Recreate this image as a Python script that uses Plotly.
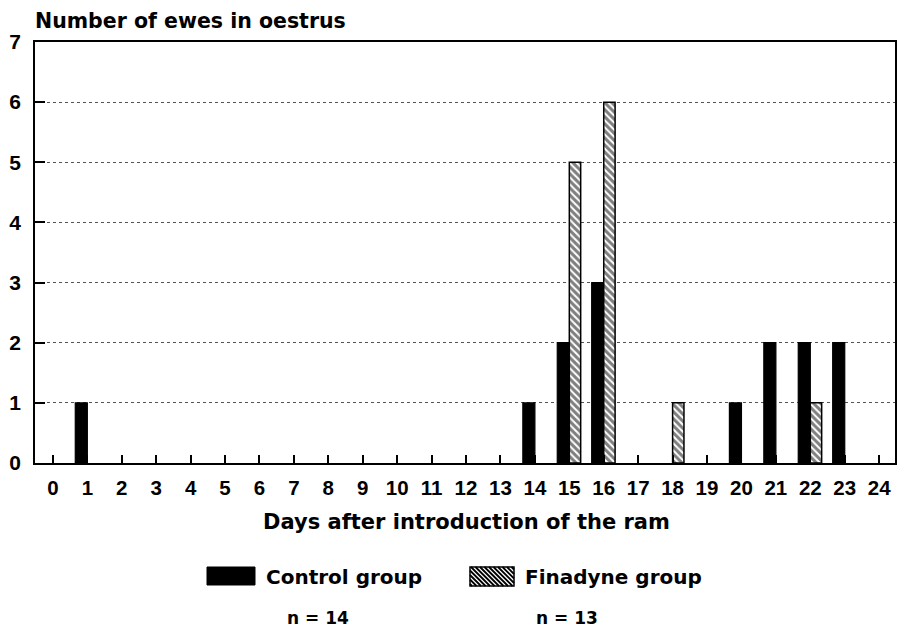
import plotly.graph_objects as go

# ---- data ----
days = list(range(0, 25))
control_days = [1, 14, 15, 16, 20, 21, 22, 23]
control_vals = [1, 1, 2, 3, 1, 2, 2, 2]
finadyne_days = [15, 16, 18, 22]
finadyne_vals = [5, 6, 1, 1]
y_ticks = [0, 1, 2, 3, 4, 5, 6, 7]

y_title = "Number of ewes in oestrus"
x_title = "Days after introduction of the ram"
legend_labels = ["Control group", "Finadyne group"]
legend_n = ["n = 14", "n = 13"]

# ---- geometry helpers (figure pixels -> paper) ----
W, H = 898, 631
L, R, T, B = 35, 3, 42, 168
PW, PH = W - L - R, H - T - B


def px(x):
    return (x - L) / PW


def py(y):
    return (H - B - y) / PH


TXT = dict(family="DejaVu Sans", size=20, color="black", weight="bold")
NUM = dict(family="Liberation Sans", size=20.5, color="black", weight="bold")

fig = go.Figure()
fig.add_trace(go.Bar(
    x=control_days, y=control_vals, name=legend_labels[0],
    offset=-0.35, width=0.35,
    marker=dict(color="black", line=dict(color="black", width=1.2)),
    showlegend=False,
))
fig.add_trace(go.Bar(
    x=finadyne_days, y=finadyne_vals, name=legend_labels[1],
    offset=0.0, width=0.33,
    marker=dict(color="white",
                pattern=dict(shape="\\", size=5, solidity=0.6,
                             fgcolor="black", bgcolor="white"),
                line=dict(color="black", width=1.5)),
    showlegend=False,
))

fig.update_layout(
    width=W, height=H,
    margin=dict(l=L, r=R, t=T, b=B, pad=0, autoexpand=False),
    paper_bgcolor="white", plot_bgcolor="white",
    barmode="overlay",
    showlegend=False,
)
fig.update_xaxes(
    range=[-0.52, 24.46], tickmode="array", tickvals=days,
    ticktext=[str(d) for d in days], automargin=False,
    ticks="inside", ticklen=8, tickwidth=1.5, tickcolor="black",
    showline=True, linewidth=1.5, linecolor="black", mirror=True,
    showgrid=False, zeroline=False, tickfont=NUM, ticklabelstandoff=6,
)
fig.update_yaxes(
    range=[0, 7], tickmode="array", tickvals=y_ticks, automargin=False,
    ticks="inside", ticklen=10, tickwidth=1.5, tickcolor="black",
    showline=True, linewidth=1.5, linecolor="black", mirror=True,
    showgrid=True, gridcolor="#555", griddash="dot", gridwidth=1,
    zeroline=False, tickfont=dict(NUM, size=21), ticklabelstandoff=8,
)

annotations = [
    dict(text=y_title, x=px(33), y=py(21), xanchor="left", yanchor="middle",
         font=dict(TXT, size=20.5)),
    dict(text=x_title, x=px(466), y=py(522), xanchor="center", yanchor="middle",
         font=dict(TXT, size=21)),
    dict(text=legend_labels[0], x=px(264), y=py(577), xanchor="left",
         yanchor="middle", font=TXT),
    dict(text=legend_labels[1], x=px(523), y=py(577), xanchor="left",
         yanchor="middle", font=TXT),
    dict(text=legend_n[0], x=px(286), y=py(618), xanchor="left",
         yanchor="middle", font=dict(TXT, size=17), borderpad=0),
    dict(text=legend_n[1], x=px(535), y=py(618), xanchor="left",
         yanchor="middle", font=dict(TXT, size=17), borderpad=0),
]
for a in annotations:
    a.update(xref="paper", yref="paper", showarrow=False)
fig.update_layout(annotations=annotations)

# legend swatches
shapes = [
    dict(type="rect", xref="paper", yref="paper",
         x0=px(207), x1=px(255), y0=py(585), y1=py(567),
         fillcolor="black", line=dict(color="black", width=1)),
    dict(type="rect", xref="paper", yref="paper",
         x0=px(470), x1=px(514), y0=py(586), y1=py(567),
         fillcolor="white", line=dict(color="black", width=1.5)),
]
bx0, bx1, by0, by1 = 470, 514, 567, 586
path = ""
d = bx0 - by1 + 2
while d < bx1 - by0:
    ya = max(by0, bx0 - d)
    yb = min(by1, bx1 - d)
    if ya < yb:
        path += f"M{px(ya + d):.5f},{py(ya):.5f} L{px(yb + d):.5f},{py(yb):.5f} "
    d += 4.5
shapes.append(dict(type="path", xref="paper", yref="paper", path=path.strip(),
                   line=dict(color="black", width=1.8)))
fig.update_layout(shapes=shapes)

fig.write_html(
    "out.html",
    config={"displayModeBar": False},
    post_script="document.body.style.margin='0';"
                "document.body.style.overflow='hidden';",
)
